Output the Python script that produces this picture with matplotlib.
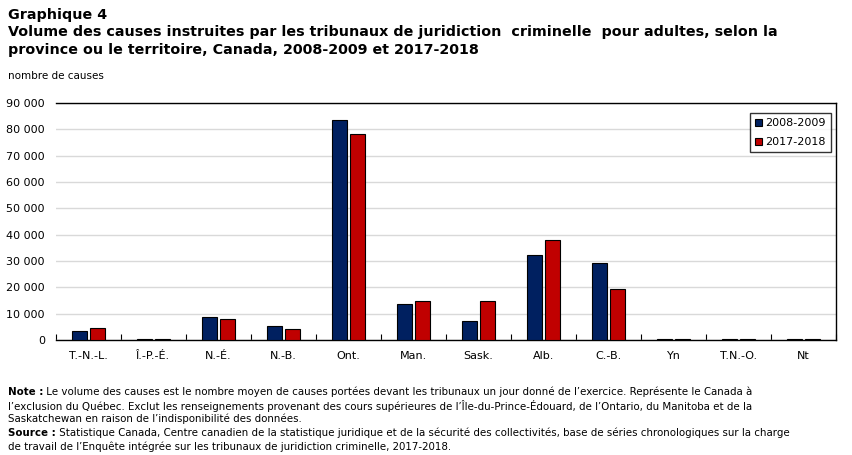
import matplotlib
matplotlib.use('Agg')
import matplotlib.pyplot as plt
import numpy as np
from matplotlib.patches import Patch
from matplotlib.ticker import FuncFormatter

provinces = ['T.-N.-L.', 'Î.-P.-É.', 'N.-É.', 'N.-B.', 'Ont.', 'Man.',
             'Sask.', 'Alb.', 'C.-B.', 'Yn', 'T.N.-O.', 'Nt']
cases_2008 = [3400, 500, 8600, 5200, 83400, 13500, 7200, 32100, 29100, 400, 400, 400]
cases_2017 = [4400, 500, 7900, 4200, 78100, 14700, 14700, 37800, 19200, 400, 400, 400]
series_labels = ['2008-2009', '2017-2018']
y_ticks = [0, 10000, 20000, 30000, 40000, 50000, 60000, 70000, 80000, 90000]

BLUE = '#002060'
RED = '#C00000'

plt.rcParams['font.family'] = ['DejaVu Sans']

fig = plt.figure(figsize=(8.52, 4.55), dpi=100)
ax = fig.add_axes([56 / 852, 1 - 340 / 455, 780 / 852, 237 / 455])

x = np.arange(len(provinces))
w = 0.235
ax.bar(x - 0.14, cases_2008, w, color=BLUE, edgecolor='black', linewidth=0.8, zorder=3)
ax.bar(x + 0.14, cases_2017, w, color=RED, edgecolor='black', linewidth=0.8, zorder=3)

ax.set_xlim(-0.5, len(provinces) - 0.5)
ax.set_ylim(0, 90000)
ax.set_yticks(y_ticks)
ax.yaxis.set_major_formatter(FuncFormatter(lambda v, p: f'{int(v):,}'.replace(',', ' ')))
ax.set_xticks(x)
ax.set_xticklabels(provinces)
ax.set_xticks(np.arange(len(provinces) + 1) - 0.5, minor=True)
ax.tick_params(axis='x', which='major', length=0, pad=8, labelsize=8)
ax.tick_params(axis='x', which='minor', length=4, direction='in', width=0.8)
ax.tick_params(axis='y', length=0, pad=8, labelsize=8)
ax.grid(axis='y', color='#d9d9d9', linewidth=1, zorder=0)
for s in ax.spines.values():
    s.set_linewidth(1)
    s.set_color('black')
ax.spines['left'].set_visible(False)
ax.spines['right'].set_visible(True)

handles = [Patch(facecolor=BLUE, edgecolor='black', linewidth=0.8),
           Patch(facecolor=RED, edgecolor='black', linewidth=0.8)]
leg = ax.legend(handles, series_labels, loc='upper right', bbox_to_anchor=(0.9935, 0.958),
                fontsize=8, frameon=True, fancybox=False, handlelength=0.6, handleheight=0.6,
                handletextpad=0.3, borderpad=0.45, labelspacing=0.85, borderaxespad=0)
leg.get_frame().set_edgecolor('black')
leg.get_frame().set_linewidth(1)

# titles
fig.text(8 / 852, 1 - 15 / 455, 'Graphique 4', fontsize=10.3, fontweight='bold', va='center')
fig.text(8 / 852, 1 - 32 / 455,
         'Volume des causes instruites par les tribunaux de juridiction  criminelle  pour adultes, selon la',
         fontsize=10.3, fontweight='bold', va='center')
fig.text(8 / 852, 1 - 50 / 455, 'province ou le territoire, Canada, 2008-2009 et 2017-2018',
         fontsize=10.3, fontweight='bold', va='center')
fig.text(8 / 852, 1 - 76 / 455, 'nombre de causes', fontsize=7.5, va='center')

# footnotes
renderer = fig.canvas.get_renderer()
note_lines = [
    ('Note :', ' Le volume des causes est le nombre moyen de causes portées devant les tribunaux un jour donné de l’exercice. Représente le Canada à'),
    (None, 'l’exclusion du Québec. Exclut les renseignements provenant des cours supérieures de l’Île-du-Prince-Édouard, de l’Ontario, du Manitoba et de la'),
    (None, 'Saskatchewan en raison de l’indisponibilité des données.'),
    ('Source :', ' Statistique Canada, Centre canadien de la statistique juridique et de la sécurité des collectivités, base de séries chronologiques sur la charge'),
    (None, 'de travail de l’Enquête intégrée sur les tribunaux de juridiction criminelle, 2017-2018.'),
]
y0 = 392
for i, (bold, rest) in enumerate(note_lines):
    yy = 1 - (y0 + i * 13.6) / 455
    xx = 8 / 852
    if bold:
        t = fig.text(xx, yy, bold, fontsize=7.4, fontweight='bold', va='center')
        bb = t.get_window_extent(renderer)
        xx = bb.x1 / fig.bbox.width
    fig.text(xx, yy, rest, fontsize=7.4, va='center')

fig.savefig('out.png', dpi=100)
